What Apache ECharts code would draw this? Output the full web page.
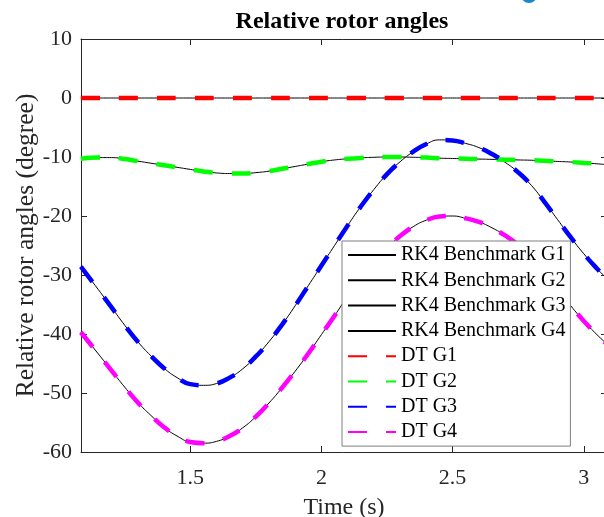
<!DOCTYPE html>
<html>
<head>
<meta charset="utf-8">
<script src="https://cdn.jsdelivr.net/npm/echarts@6/dist/echarts.min.js"></script>
<style>
html,body{margin:0;padding:0;background:#fff;}
#chart{width:604px;height:517px;}
</style>
</head>
<body>
<div id="chart"></div>
<script>
var time = [1.083,1.15,1.2,1.25,1.3,1.35,1.4,1.45,1.5,1.55,1.6,1.65,1.7,1.75,1.8,1.85,1.9,1.95,2.0,2.05,2.1,2.15,2.2,2.25,2.3,2.35,2.4,2.45,2.5,2.55,2.6,2.65,2.7,2.75,2.8,2.85,2.9,2.95,3.0,3.05,3.088];
var g1 = [0,0,0,0,0,0,0,0,0,0,0,0,0,0,0,0,0,0,0,0,0,0,0,0,0,0,0,0,0,0,0,0,0,0,0,0,0,0,0,0,0];
var g2 = [-10.3,-10.1,-10.1,-10.35,-10.7,-11.05,-11.4,-11.75,-12.1,-12.45,-12.7,-12.8,-12.8,-12.65,-12.4,-12.0,-11.6,-11.2,-10.8,-10.5,-10.3,-10.15,-10.05,-10.0,-10.0,-10.05,-10.1,-10.2,-10.25,-10.3,-10.35,-10.4,-10.45,-10.5,-10.55,-10.65,-10.75,-10.85,-11.0,-11.15,-11.3];
var g3 = [-28.6,-32.5,-35.5,-38.5,-41.3,-43.7,-45.8,-47.4,-48.5,-48.7,-48.4,-47.4,-45.9,-43.8,-41.3,-38.4,-35.2,-31.8,-28.4,-25.0,-21.6,-18.4,-15.5,-12.9,-10.8,-9.1,-7.8,-7.1,-7.2,-7.7,-8.4,-9.5,-10.9,-12.6,-14.8,-17.6,-20.6,-23.6,-26.4,-28.9,-30.6];
var g4 = [-39.7,-43.4,-46.2,-49.0,-51.6,-53.8,-55.8,-57.3,-58.3,-58.5,-58.2,-57.3,-55.9,-54.0,-51.7,-49.1,-46.3,-43.3,-40.1,-36.9,-33.6,-30.6,-27.8,-25.4,-23.4,-21.8,-20.7,-20.1,-20.0,-20.4,-21.0,-22.0,-23.3,-24.9,-27.0,-29.6,-32.4,-35.2,-37.8,-40.1,-41.7];
var xTicks = [1.5, 2, 2.5, 3];
var rkNames = ['RK4 Benchmark G1','RK4 Benchmark G2','RK4 Benchmark G3','RK4 Benchmark G4'];
var dtNames = ['DT G1','DT G2','DT G3','DT G4'];
var dtColors = ['#ff0000','#00ff00','#0000ff','#ff00ff'];
var titleText = 'Relative rotor angles';
var xName = 'Time (s)';
var yName = 'Relative rotor angles (degree)';

var gens = [g1, g2, g3, g4];
function pairs(v){ return time.map(function(t,i){ return [t, v[i]]; }); }
var FONT = 'Liberation Serif';
var AX = '#262626';

var series = [];
gens.forEach(function(v,i){
  series.push({name: rkNames[i], type:'line', data: pairs(v), smooth: true, symbol:'none',
    lineStyle:{color:'#000', width:1}, itemStyle:{color:'#000'}, z:2});
});
gens.forEach(function(v,i){
  series.push({name: dtNames[i], type:'line', data: pairs(v), smooth: true, symbol:'none',
    lineStyle:{color: dtColors[i], width:4.5, type:[19,19]}, itemStyle:{color: dtColors[i]}, z:3});
});

var chart = echarts.init(document.getElementById('chart'), null, {renderer:'canvas'});
chart.setOption({
  animation: false,
  backgroundColor: '#fff',
  graphic: [
    {type:'text', x: 342, y: 22, style:{text: titleText, font: 'bold 24px "Liberation Serif"', fill:'#000', textAlign:'center', textVerticalAlign:'middle'}},
    {type:'circle', shape:{cx:529, cy:-5, r:8}, style:{fill:'#1a86d0'}}
  ],
  grid: {left: 81, top: 39, width: 526, height: 413, containLabel: false, outerBoundsMode: 'none'},
  legend: {
    data: rkNames.concat(dtNames),
    orient: 'vertical', left: 342, top: 241,
    padding: [4, 5, 4, 5],
    itemWidth: 48, itemHeight: 14, itemGap: 5.3,
    backgroundColor: '#fff', borderColor: '#7f7f7f', borderWidth: 1,
    itemStyle: {opacity: 0},
    textStyle: {fontFamily: FONT, fontSize: 20, color: '#000', lineHeight: 20}
  },
  xAxis: [{
    type: 'value', min: 1.0835, max: 3.0885, position: 'bottom',
    name: xName, nameLocation: 'middle', nameGap: 44, nameMoveOverlap: false,
    nameTextStyle: {fontFamily: FONT, fontSize: 24, color: AX},
    axisLine: {show: true, onZero: false, lineStyle: {color: AX, width: 1}},
    axisTick: {show: true, inside: true, length: 6, customValues: xTicks, lineStyle: {color: AX}},
    axisLabel: {show: true, margin: 15, customValues: xTicks, fontFamily: FONT, fontSize: 22, color: AX},
    splitLine: {show: false}
  }, {
    type: 'value', min: 1.0835, max: 3.0885, position: 'top',
    axisLine: {show: true, onZero: false, lineStyle: {color: AX, width: 1}},
    axisTick: {show: true, inside: true, length: 6, customValues: xTicks, lineStyle: {color: AX}},
    axisLabel: {show: false},
    splitLine: {show: false}
  }],
  yAxis: [{
    type: 'value', min: -60, max: 10, interval: 10, position: 'left',
    name: yName, nameLocation: 'middle', nameGap: 42, nameMoveOverlap: false,
    nameTextStyle: {fontFamily: FONT, fontSize: 25.5, color: AX},
    axisLine: {show: true, onZero: false, lineStyle: {color: AX, width: 1}},
    axisTick: {show: true, inside: true, length: 6, lineStyle: {color: AX}},
    axisLabel: {show: true, margin: 9, fontFamily: FONT, fontSize: 22, color: AX},
    splitLine: {show: false}
  }, {
    type: 'value', min: -60, max: 10, interval: 10, position: 'right',
    axisLine: {show: true, onZero: false, lineStyle: {color: AX, width: 1}},
    axisTick: {show: true, inside: true, length: 6, lineStyle: {color: AX}},
    axisLabel: {show: false},
    splitLine: {show: false}
  }],
  series: series
});
</script>
</body>
</html>
